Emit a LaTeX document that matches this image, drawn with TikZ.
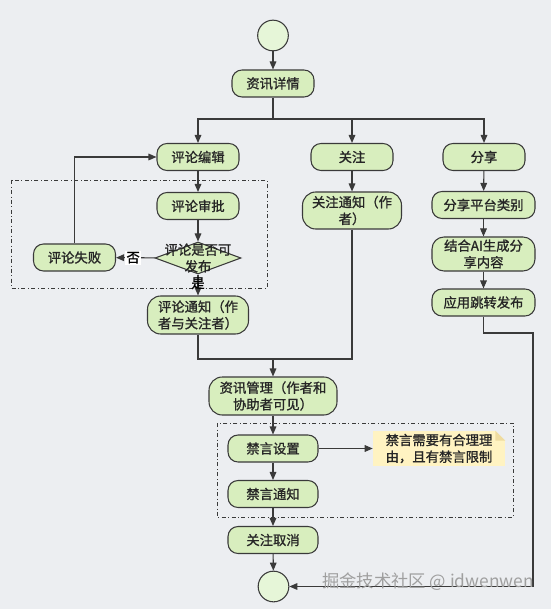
\documentclass[tikz,border=0pt]{standalone}
\usepackage{fontspec}
\newfontfamily\cjk[FakeBold=1.2]{Noto Sans CJK SC}
\newfontfamily\cjkmark{Noto Sans CJK SC}
\usetikzlibrary{shapes.geometric,arrows.meta}

\definecolor{bgc}{HTML}{ECEEF1}
\definecolor{procfill}{HTML}{D8EEBE}
\definecolor{startfill}{HTML}{E6F6D8}
\definecolor{edgec}{HTML}{3A3A3A}
\definecolor{notefill}{HTML}{FFF3C2}
\definecolor{foldc}{HTML}{EFDCA0}

\tikzset{
  proc/.style={draw=edgec, fill=procfill, rounded corners=7.5pt, thick,
    minimum width=61.5pt, minimum height=20.25pt, inner sep=1pt,
    font=\cjk\fontsize{10}{12.5}\selectfont, text=black!85, align=center},
  startend/.style={draw=edgec, fill=startfill, circle, thick, minimum size=23pt, inner sep=0pt},
  arr/.style={draw=edgec, thick, -{Triangle[length=6pt,width=5pt]}},
  ln/.style={draw=edgec, thick},
  group/.style={draw=edgec, dash dot, thin},
}

\begin{document}
\begin{tikzpicture}[x=0.75pt,y=-0.75pt]
\fill[bgc] (0,0) rectangle (551,609);

% groups
\draw[group] (11,180) rectangle (267,288);
\draw[group] (217,423) rectangle (513,517);

% top
\node[startend] (start) at (273,35.5) {};
\node[proc] (info) at (273,83.5) {资讯详情};
\coordinate (fork) at (273,119);

% comment branch
\node[proc] (edit) at (198,157) {评论编辑};
\node[proc] (audit) at (198,206) {评论审批};
\node[draw=edgec, fill=procfill, thick, diamond, minimum width=64.5pt, minimum height=24pt, inner sep=0pt,
  label={[font=\cjk\fontsize{10}{12.5}\selectfont, text=black!85, align=center]center:评论是否可\\发布}] (check) at (198,258) {};
\node[proc] (fail) at (74.5,257.5) {评论失败};
\node[proc, minimum width=75.75pt, minimum height=28.5pt, rounded corners=10pt] (cnotice) at (198,315) {评论通知（作\\者与关注者）};

% follow branch
\node[proc] (follow) at (352,157) {关注};
\node[proc, minimum width=74.25pt, minimum height=27.75pt, rounded corners=10pt] (fnotice) at (352,210.5) {关注通知（作\\者）};

% share branch
\node[proc] (share) at (484,157) {分享};
\node[proc, minimum width=77.25pt] (platform) at (483.5,205) {分享平台类别};
\node[proc, minimum width=77.25pt, minimum height=25.5pt, rounded corners=9pt] (aigen) at (483.5,254) {结合AI生成分\\享内容};
\node[proc, minimum width=77.25pt] (publish) at (483.5,302.5) {应用跳转发布};

% management
\coordinate (merge) at (273,359);
\node[proc, minimum width=96pt, minimum height=28.5pt, rounded corners=10pt] (manage) at (273,396) {资讯管理（作者和\\协助者可见）};
\node[proc, minimum width=67.5pt] (mute) at (273,448.5) {禁言设置};
\node[proc, minimum width=67.5pt] (mnotice) at (273,494) {禁言通知};
\node[proc, minimum width=67.5pt] (unfollow) at (273,540) {关注取消};
\node[startend] (stop) at (273.5,586.5) {};

% note
\node[fill=notefill, minimum width=99pt, minimum height=26.25pt, inner sep=0pt, align=left,
  font=\cjk\fontsize{10}{12.5}\selectfont, text=black!85] (reason) at (439,448.5) {禁言需要有合理理\\由，且有禁言限制};
\fill[bgc] (reason.north east) -- ++(-10,0) -- ++(10,10) -- cycle;
\fill[foldc] (reason.north east) ++(-10,0) -- ++(0,10) -- ++(10,0) -- cycle;

% connectors
\draw[arr] (start) -- (info);
\draw[ln] (info) -- (fork);
\draw[arr] (fork) -| (edit);
\draw[arr] (fork) -| (follow);
\draw[arr] (fork) -| (share);

\draw[arr] (edit) -- (audit);
\draw[arr] (audit) -- (check);
\draw[arr] (check) -- node[pos=0.56, fill=white, inner sep=1pt, font=\cjk\fontsize{10}{12}\selectfont] {否} (fail);
\draw[arr] (fail) |- (edit);
\draw[arr] (check) -- node[pos=0.42, inner sep=0pt, font=\cjk\fontsize{10}{12}\selectfont] {是} (cnotice);

\draw[arr] (follow) -- (fnotice);
\draw[ln] (cnotice) |- (merge);
\draw[ln] (fnotice) |- (merge);
\draw[arr] (merge) -- (manage);

\draw[arr] (share) -- (platform);
\draw[arr] (platform) -- (aigen);
\draw[arr] (aigen) -- (publish);
\coordinate (turn) at (533,333);
\draw[arr] (publish) |- (turn) |- (stop);

\draw[arr] (manage) -- (mute);
\draw[arr] (mute) -- (reason);
\draw[arr] (mute) -- (mnotice);
\draw[arr] (mnotice) -- (unfollow);
\draw[arr] (unfollow) -- (stop);

% watermark
\node[anchor=east, inner sep=0pt, text=gray!75, font=\cjkmark\fontsize{13}{14}\selectfont] (mark) at (534,582) {掘金技术社区 @ idwenwen};
\end{tikzpicture}
\end{document}
